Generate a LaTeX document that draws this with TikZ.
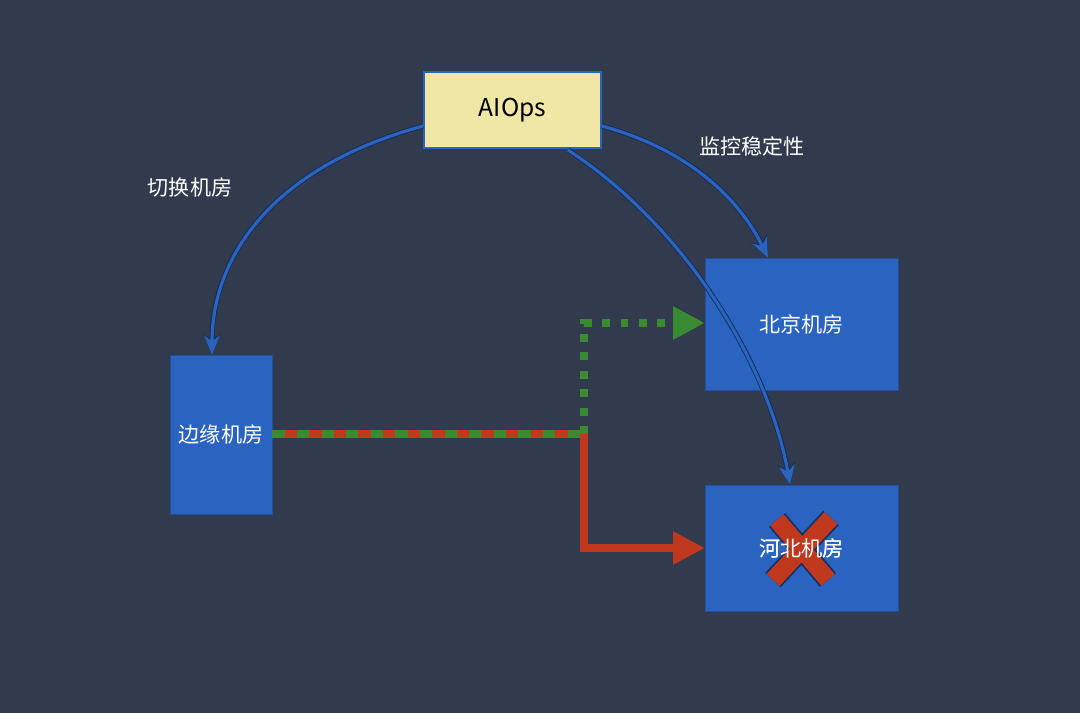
\documentclass[tikz,border=0pt]{standalone}
\usepackage{fontspec}
\setmainfont{Noto Sans CJK SC}
\usetikzlibrary{arrows.meta}
\definecolor{bg}{HTML}{323A4D}
\definecolor{bl}{HTML}{2B63C0}
\definecolor{yl}{HTML}{F0E6A6}
\definecolor{gr}{HTML}{3A8A34}
\definecolor{rd}{HTML}{C0391F}
\begin{document}
\begin{tikzpicture}[x=0.02cm,y=-0.02cm,
  box/.style={draw=bl!80!black,fill=bl,text=white,font=\fontsize{12}{14}\selectfont,inner sep=0},
  lbl/.style={text=white,font=\fontsize{12}{14}\selectfont},
  carrow/.style={draw=bl,line width=1.8pt,-{Stealth[length=11pt,width=9pt]},
     preaction={draw=bl!45!black,line width=2.8pt,-{Stealth[length=12pt,width=10pt]}}}]
\fill[bg] (0,0) rectangle (1080,713);
\useasboundingbox (0,0) rectangle (1080,713);
\node[draw=bl,line width=1pt,fill=yl,minimum width=177*0.02cm,minimum height=76*0.02cm,font=\fontsize{14}{16}\selectfont] (ai) at (512.5,110) {AIOps};
\node[box,minimum width=102*0.02cm,minimum height=159*0.02cm] (edge) at (221,434.5) {边缘机房};
\node[box,minimum width=193*0.02cm,minimum height=132*0.02cm] (bj) at (801.5,324) {北京机房};
\node[box,minimum width=193*0.02cm,minimum height=126*0.02cm] (hb) at (801.5,548) {河北机房};
\node[lbl] (l1) at (190,187) {切换机房};
\node[lbl] (l2) at (752,146) {监控稳定性};
\coordinate (j) at (584,434);
\coordinate (jg) at (584,323);
\coordinate (jr) at (584,548);
\draw[carrow] (ai.west|-0,126) .. controls (280,165) and (212,250) .. (edge.north-|212,0);
\draw[carrow] (ai.east|-0,126) .. controls (690,150) and (740,200) .. (bj.north-|768,0);
\draw[carrow] (568,150) .. controls (690,230) and (770,370) .. (hb.north-|790,0);
\draw[rd,line width=4pt] (edge.east|-j) -- (j);
\draw[gr,line width=4pt,dash pattern=on 7pt off 7pt] (edge.east|-j) -- (j);
\draw[gr,line width=4pt,dash pattern=on 4.5pt off 6pt,-{Triangle[length=18pt,width=18pt]}] (j) -- (jg) -- (bj.west|-jg);
\draw[rd,line width=4pt,-{Triangle[length=18pt,width=18pt]}] (j) -- (jr) -- (hb.west|-jr);
\begin{scope}[shift={(801,548)}]
\draw[bl!50!black,line width=12pt] (-24,-28) -- (27,32) (30,-30) -- (-28,32);
\draw[rd,line width=10pt] (-24,-28) -- (27,32) (30,-30) -- (-28,32);
\end{scope}
\node[text=white,font=\fontsize{12}{14}\selectfont] at (hb) {河北机房};
\end{tikzpicture}
\end{document}
